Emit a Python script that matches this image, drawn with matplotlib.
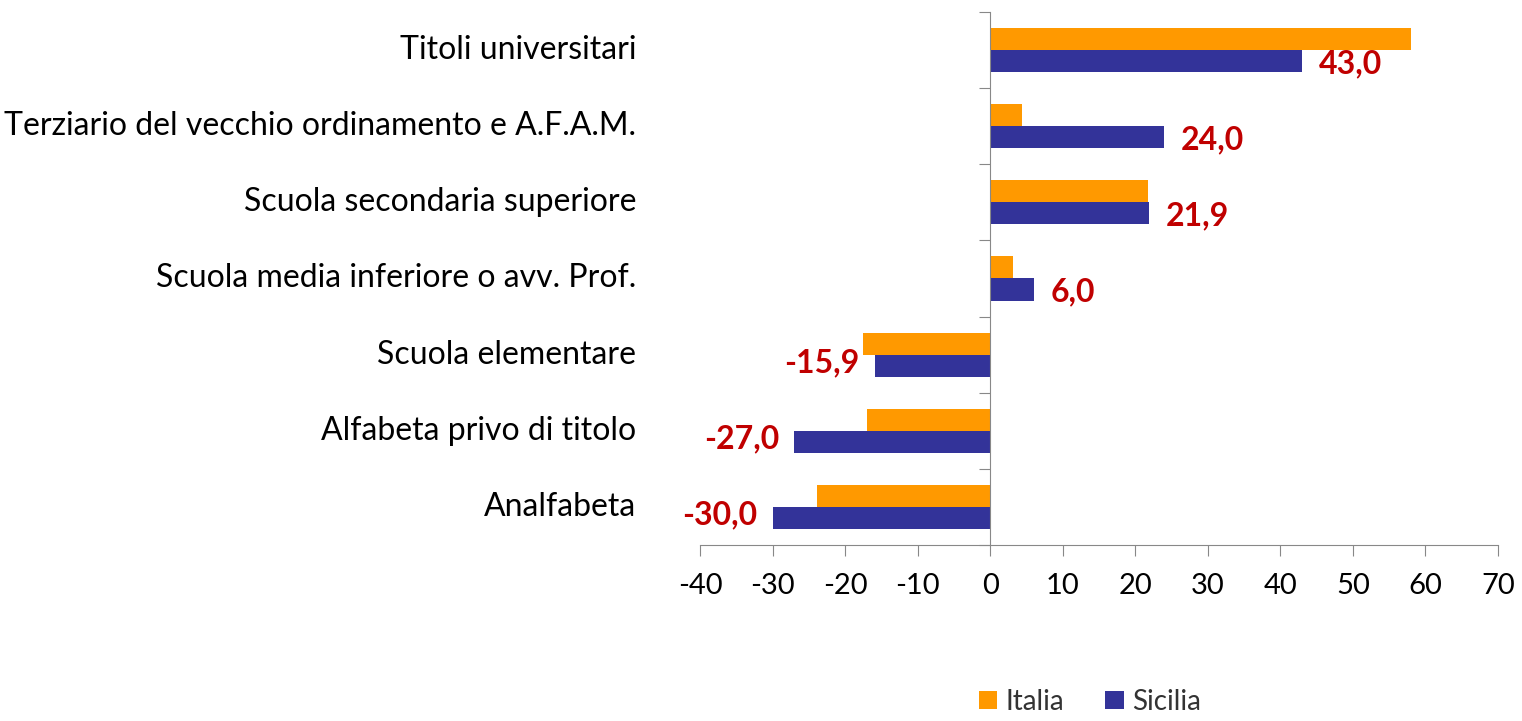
import matplotlib.pyplot as plt
import matplotlib.transforms as mtransforms
import numpy as np

# data, top to bottom as in the chart
categories = ['Titoli universitari',
              'Terziario del vecchio ordinamento e A.F.A.M.',
              'Scuola secondaria superiore',
              'Scuola media inferiore o avv. Prof.',
              'Scuola elementare',
              'Alfabeta privo di titolo',
              'Analfabeta']
italia = [58.0, 4.4, 21.8, 3.2, -17.5, -17.0, -23.9]
sicilia = [43.0, 24.0, 21.9, 6.0, -15.9, -27.0, -30.0]
xticks = [-40, -30, -20, -10, 0, 10, 20, 30, 40, 50, 60, 70]

plt.rcParams['font.family'] = ['Lato', 'DejaVu Sans']

fig = plt.figure(figsize=(15.22, 7.21), dpi=100)
ax = fig.add_axes([0.4599, 0.2441, 0.5243, 0.7393])

n = len(categories)
y = np.arange(n)[::-1]
h = 0.29
ax.barh(y + h / 2, italia, height=h, color='#FF9900', label='Italia')
ax.barh(y - h / 2, sicilia, height=h, color='#333399', label='Sicilia')

# data labels for Sicilia
for yi, v in zip(y, sicilia):
    txt = f'{v:.1f}'.replace('.', ',')
    if v >= 0:
        ax.annotate(txt, (v, yi - h / 2), xytext=(12, -2), textcoords='offset points',
                    ha='left', va='center', color='#C00000', fontsize=23, fontweight='bold')
    else:
        ax.annotate(txt, (v, yi - h / 2), xytext=(-11, 2), textcoords='offset points',
                    ha='right', va='center', color='#C00000', fontsize=23, fontweight='bold')

ax.set_xlim(-40, 70)
ax.set_ylim(-0.5, n - 0.5)
ax.set_xticks(xticks)
ax.set_xticklabels([str(t) for t in xticks], fontsize=21)
ax.tick_params(axis='x', direction='out', length=8, color='#888888', pad=12)

# vertical axis at zero, ticks between categories
ax.spines['left'].set_position(('data', 0))
ax.spines['left'].set_color('#888888')
ax.spines['bottom'].set_color('#888888')
ax.spines['top'].set_visible(False)
ax.spines['right'].set_visible(False)
ax.set_yticks(np.arange(n + 1) - 0.5)
ax.set_yticklabels([])
ax.tick_params(axis='y', direction='out', length=8, color='#888888')

# category labels at the far left
trans = mtransforms.blended_transform_factory(ax.transAxes, ax.transData)
for yi, cat in zip(y, categories):
    ax.text(-0.08, yi, cat, transform=trans, ha='right', va='center', fontsize=23)

fig.legend(loc='lower center', bbox_to_anchor=(0.716, -0.026), ncol=2, frameon=False,
           fontsize=20, handlelength=0.65, handleheight=0.65, handletextpad=0.3,
           columnspacing=1.5, labelcolor='#333333')

fig.savefig('out.png', dpi=100)
